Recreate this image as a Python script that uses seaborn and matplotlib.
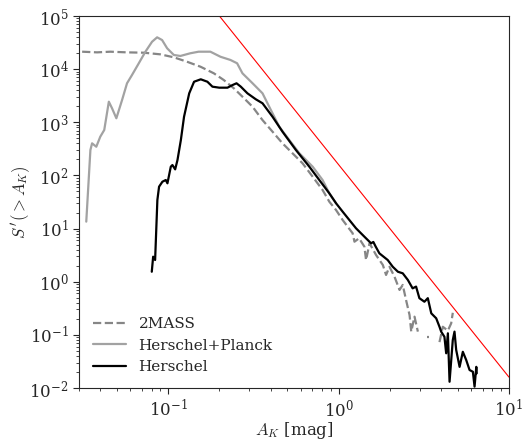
import numpy as np
import pandas as pd
import matplotlib.pyplot as plt
import seaborn as sns

sns.set_style('ticks')
plt.rcParams['font.family'] = ['DejaVu Serif']
plt.rcParams['mathtext.fontset'] = 'cm'
plt.rcParams['xtick.major.size'] = 4
plt.rcParams['ytick.major.size'] = 4
plt.rcParams['xtick.minor.size'] = 2
plt.rcParams['ytick.minor.size'] = 2

# 2MASS  (None -> gap in the curve)
mass_A = [0.0313, 0.0383, 0.0458, 0.0574, 0.0719, 0.090, 0.108, 0.129, 0.155, 0.1855,
          0.212, 0.243, 0.273, 0.313, 0.358, 0.410, 0.469, 0.537, 0.615, 0.705,
          0.806, 0.883, 0.967, 1.057, 1.21, 1.24, 1.32, 1.418, 1.45, 1.52,
          1.66, 1.82, 1.90, 1.99, 2.13, 2.28, 2.38, 2.49, 2.61, 2.67,
          2.79, 2.92, None, 3.30, 3.40, None, 3.91, 4.09, 4.38, 4.58, 4.68]
mass_S = [21300, 20700, 21300, 20700, 20400, 19000, 16700, 13800, 11100, 8350,
          6250, 4360, 3030, 1960, 1100, 665, 402, 261, 169, 94.6,
          53.2, 32.0, 22.3, 14.5, 8.14, 5.66, 6.56, 4.56, 2.56, 5.28,
          3.18, 2.06, 1.34, 1.91, 1.24, 0.70, 0.87, 0.45, 0.236, 0.115,
          0.22, 0.115, None, 0.092, 0.092, None, 0.073, 0.142, 0.12, 0.165, 0.26]

# Herschel+Planck
hp_A = [0.0331, 0.0350, 0.0358, 0.0379, 0.0400, 0.0422, 0.0449, 0.0469, 0.0497, 0.0537,
        0.0574, 0.0614, 0.0673, 0.0736, 0.0805, 0.0862, 0.0922, 0.0987, 0.108, 0.118,
        0.135, 0.151, 0.177, 0.203, 0.232, 0.254, 0.273, 0.313, 0.358, 0.392,
        0.449, 0.514, 0.589, 0.705, 0.806, 0.883, 0.967]
hp_S = [13.5, 301, 402, 347, 536, 716, 2440, 1830, 1190, 2630,
        5420, 7760, 12900, 21300, 32800, 39700, 35300, 24700, 18500, 17700,
        19900, 21300, 21300, 17100, 14900, 12900, 8350, 5420, 3510, 1960,
        826, 464, 261, 146, 82, 46, 29.9]

# Herschel
h_A = [0.0802, 0.0817, 0.0839, 0.0865, 0.0885, 0.0926, 0.0969, 0.0991, 0.1037, 0.106,
       0.110, 0.1135, 0.1188, 0.124, 0.133, 0.142, 0.1555, 0.170, 0.182, 0.1995,
       0.223, 0.239, 0.252, 0.267, 0.292, 0.327, 0.358, 0.410, 0.469, 0.562,
       0.674, 0.771, 0.883, 0.967, 1.057, 1.157, 1.267, 1.418, 1.552, 1.60,
       1.65, 1.736, 1.943, 2.08, 2.23, 2.38, 2.55, 2.72, 2.85, 2.98,
       3.19, 3.34, 3.50, 3.74, 3.91, 4.00, 4.18, 4.28, 4.38, 4.48,
       4.68, 4.79, 4.90, 5.13, 5.36, 5.61, 5.87, 6.14, 6.28, 6.43, 6.47]
h_S = [1.54, 2.96, 2.56, 34.5, 61.4, 76.2, 82, 71.1, 146, 157,
       130, 195, 464, 1270, 3510, 5800, 6440, 5800, 4680, 4480,
       4480, 5030, 5420, 4680, 3510, 2710, 2280, 1270, 665, 301,
       146, 82, 46, 29.9, 20.8, 14.5, 10.1, 7.03, 5.28, 5.6,
       4.6, 3.42, 2.56, 1.91, 1.54, 1.44, 1.08, 0.75, 0.81, 0.49,
       0.42, 0.49, 0.254, 0.205, 0.142, 0.115, 0.092, 0.045, 0.107, 0.0131,
       0.080, 0.115, 0.052, 0.025, 0.048, 0.0336, 0.0218, 0.0202, 0.0106, 0.025, 0.0189]

# A_K^-4 reference line
ref_A = [0.2, 10]
ref_S = [1e5, 0.016]

names = ['2MASS', 'Herschel+Planck', 'Herschel']
colors = {'2MASS': '#868686', 'Herschel+Planck': '#a2a2a2', 'Herschel': 'black'}
dashes = {'2MASS': (3.7, 1.6), 'Herschel+Planck': '', 'Herschel': ''}

rows = []
for name, A, S in [('2MASS', mass_A, mass_S), ('Herschel+Planck', hp_A, hp_S), ('Herschel', h_A, h_S)]:
    seg = 0
    for a, s in zip(A, S):
        if s is None:
            seg += 1
            continue
        rows.append({'A': a, 'S': s, 'survey': name, 'seg': name + str(seg)})
df = pd.DataFrame(rows)

f, ax = plt.subplots(figsize=(5.28, 4.41), dpi=100)
f.subplots_adjust(left=0.1496, right=0.964, top=0.9637, bottom=0.1202)

sns.lineplot(data=df, x='A', y='S', hue='survey', style='survey', units='seg',
             estimator=None, sort=False, hue_order=names, style_order=names,
             palette=colors, dashes=dashes, linewidth=1.6, ax=ax)
sns.lineplot(x=ref_A, y=ref_S, color='red', linewidth=0.8, ax=ax, legend=False)

ax.set_xscale('log')
ax.set_yscale('log')
ax.set_xlim(0.03, 10)
ax.set_ylim(1e-2, 1e5)
ax.set_xlabel(r'$A_K$ [mag]', fontsize=12, labelpad=0)
ax.set_ylabel(r'$S^{\,\prime}(>A_K)$', fontsize=12, labelpad=-2)
ax.tick_params(labelsize=12)
ax.legend(loc='lower left', frameon=False, fontsize=11, handlelength=2.2)

f.savefig('out.png')
